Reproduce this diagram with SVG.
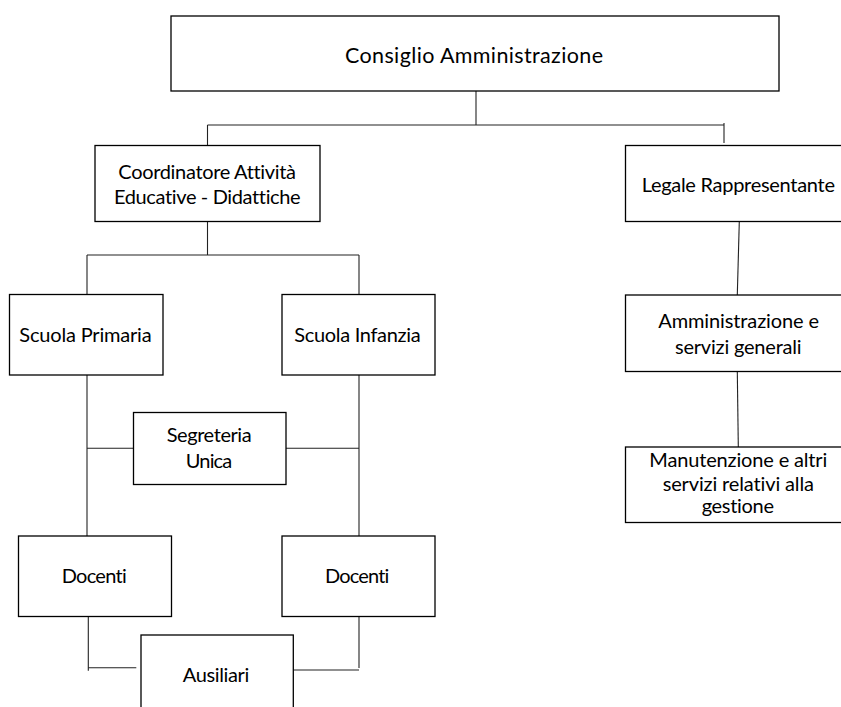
<svg xmlns="http://www.w3.org/2000/svg" width="841" height="707" viewBox="0 0 841 707">
<style>
.box{fill:#fff;stroke:#000;stroke-width:1.3}
.t{font-family:Lato,"Liberation Sans",sans-serif;font-size:20px;fill:#000;text-anchor:middle;font-variant-ligatures:none}
.c{fill:none;stroke:#222;stroke-width:1.1}
</style>
<rect width="841" height="707" fill="#fff"/>
<g id="connectors">
<line class="c" x1="476" y1="91" x2="476" y2="125"/>
<line class="c" x1="207.5" y1="125" x2="724" y2="125"/>
<line class="c" x1="207.5" y1="125" x2="207.5" y2="145.5"/>
<line class="c" x1="724" y1="123" x2="724" y2="143"/>
<line class="c" x1="207.5" y1="221.5" x2="207.5" y2="255"/>
<line class="c" x1="87" y1="255" x2="359" y2="255"/>
<line class="c" x1="87" y1="255" x2="87" y2="294.5"/>
<line class="c" x1="359" y1="255" x2="359" y2="294.5"/>
<line class="c" x1="87" y1="375" x2="87" y2="536"/>
<line class="c" x1="359" y1="375" x2="359" y2="536"/>
<line class="c" x1="87" y1="448.3" x2="133.5" y2="448.3"/>
<line class="c" x1="286" y1="448.3" x2="359" y2="448.3"/>
<polyline class="c" points="88.3,616.5 88.3,670.7"/>
<line class="c" x1="88.3" y1="667.7" x2="136.3" y2="667.7"/>
<polyline class="c" points="359,614 359,668"/>
<line class="c" x1="293.3" y1="670" x2="359" y2="670"/>
<line class="c" x1="739.3" y1="221.5" x2="737.3" y2="295"/>
<line class="c" x1="737.3" y1="371.5" x2="738.3" y2="447"/>
</g>
<g id="consiglio">
<rect class="box" x="171" y="16" width="608" height="75"/>
<text class="t" x="474" y="63" textLength="258" style="font-size:21.5px">Consiglio Amministrazione</text>
</g>
<g id="coordinatore">
<rect class="box" x="95" y="145.5" width="225" height="76"/>
<text class="t" x="207.2" y="178.5" textLength="177.7">Coordinatore Attività</text>
<text class="t" x="207.3" y="204" textLength="186.7">Educative - Didattiche</text>
</g>
<g id="legale">
<rect class="box" x="625.5" y="145.5" width="230" height="76"/>
<text class="t" x="738.3" y="191.5" textLength="193.3">Legale Rappresentante</text>
</g>
<g id="primaria">
<rect class="box" x="9.5" y="294.5" width="153.5" height="80.5"/>
<text class="t" x="85.5" y="342" textLength="132.4">Scuola Primaria</text>
</g>
<g id="infanzia">
<rect class="box" x="282" y="294.5" width="153" height="80.5"/>
<text class="t" x="357.5" y="342" textLength="126.4">Scuola Infanzia</text>
</g>
<g id="segreteria">
<rect class="box" x="133.5" y="412.5" width="152.5" height="72"/>
<text class="t" x="209.2" y="441.7" textLength="85">Segreteria</text>
<text class="t" x="209" y="468.3" textLength="46.6">Unica</text>
</g>
<g id="docenti-primaria">
<rect class="box" x="18.5" y="536" width="153" height="80.5"/>
<text class="t" x="94.2" y="583.3" textLength="65">Docenti</text>
</g>
<g id="docenti-infanzia">
<rect class="box" x="282" y="536" width="153" height="80.5"/>
<text class="t" x="357.2" y="583.3" textLength="64.3">Docenti</text>
</g>
<g id="ausiliari">
<rect class="box" x="141" y="635" width="152.3" height="90"/>
<text class="t" x="216" y="682.3" textLength="66.6">Ausiliari</text>
</g>
<g id="amministrazione">
<rect class="box" x="625.5" y="295" width="230" height="76.5"/>
<text class="t" x="738.7" y="328.3" textLength="160.7">Amministrazione e</text>
<text class="t" x="738.3" y="354" textLength="126.7">servizi generali</text>
</g>
<g id="manutenzione">
<rect class="box" x="625.5" y="447" width="230" height="75.5"/>
<text class="t" x="738.3" y="467.3" textLength="178">Manutenzione e altri</text>
<text class="t" x="738.3" y="490.7" textLength="151.3">servizi relativi alla</text>
<text class="t" x="737.8" y="512.7" textLength="72.3">gestione</text>
</g>
</svg>
